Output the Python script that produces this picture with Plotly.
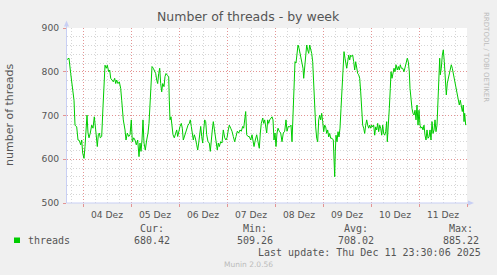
import pandas as pd
import plotly.graph_objects as go

# ---- data (hours relative to 2025-12-04 00:00, number of threads) ----
hours = [-8.0, -7.0, -6.15, -5.35, -4.5, -4.0, -3.15, -2.5, -1.85, -1.15, -0.65, -0.15, 0.5, 1.0, 1.5,
         2.0, 2.5, 3.0, 3.65, 4.35, 5.0, 5.65, 6.35, 6.85, 7.15, 7.65, 8.15, 8.65, 9.35, 10.0,
         10.5, 11.0, 11.65, 12.15, 12.85, 13.35, 13.85, 14.5, 15.15, 15.85, 16.35, 16.85, 17.5, 18.15,
         18.85, 19.35, 20.15, 21.0, 21.5, 22.15, 22.85, 23.5, 24.15, 24.65, 25.35, 26.0, 26.65, 27.35,
         28.0, 28.5, 29.0, 29.5, 30.0, 30.5, 31.15, 31.85, 32.5, 33.0, 33.5, 34.0, 34.5, 35.15, 35.85,
         36.35, 36.85, 37.35, 37.85, 38.35, 38.85, 39.35, 39.85, 40.5, 41.0, 41.5, 42.15, 42.85, 43.15,
         43.5, 44.0, 44.5, 45.0, 45.65, 46.35, 46.85, 47.35, 48.0, 48.5, 49.15, 49.65, 50.15, 50.65,
         51.15, 51.85, 52.5, 53.15, 53.65, 54.15, 54.65, 55.15, 55.65, 56.15, 56.85, 57.35, 57.85,
         58.35, 58.85, 59.35, 59.85, 60.35, 60.85, 61.35, 61.85, 62.5, 63.15, 63.65, 64.15, 64.65,
         65.15, 65.65, 66.15, 66.65, 67.15, 67.65, 68.15, 68.85, 69.5, 70.15, 70.85, 71.5, 72.0,
         72.65, 73.15, 73.85, 74.5, 75.15, 75.85, 76.5, 77.15, 77.85, 78.5, 79.15, 79.85, 80.35,
         80.85, 81.35, 81.85, 82.5, 83.15, 83.85, 84.5, 85.0, 85.5, 86.15, 86.85, 87.5, 88.15, 88.65,
         89.15, 89.85, 90.35, 90.85, 91.35, 91.85, 92.35, 92.85, 93.35, 94.0, 94.5, 95.0, 95.5, 96.0,
         96.5, 97.0, 97.5, 98.15, 98.85, 99.5, 100.15, 100.85, 101.5, 102.0, 102.65, 103.35, 104.0,
         104.5, 105.0, 105.5, 106.0, 106.5, 107.0, 107.5, 108.0, 108.5, 109.0, 109.5, 110.0, 110.35,
         110.85, 111.35, 111.85, 112.35, 112.85, 113.35, 113.85, 114.35, 114.85, 115.15, 115.5,
         115.85, 116.35, 116.85, 117.35, 117.85, 118.35, 118.85, 119.35, 119.85, 120.35, 120.85,
         121.35, 121.85, 122.35, 122.85, 123.35, 123.85, 124.5, 125.15, 125.5, 125.85, 126.15, 126.5,
         127.0, 127.5, 128.0, 128.5, 129.0, 129.5, 130.0, 130.5, 131.0, 131.5, 131.85, 132.35, 132.85,
         133.35, 133.85, 134.35, 134.85, 135.35, 135.85, 136.35, 136.85, 137.35, 137.85, 138.35,
         138.85, 139.35, 139.85, 140.35, 140.85, 141.35, 141.85, 142.35, 142.85, 143.35, 143.85,
         144.35, 144.85, 145.35, 145.85, 146.35, 146.85, 147.35, 147.85, 148.35, 148.85, 149.35,
         149.85, 150.35, 150.85, 151.35, 151.85, 152.15, 152.65, 153.15, 153.65, 154.0, 154.5, 155.0,
         155.5, 156.0, 156.5, 157.15, 157.65, 158.15, 158.65, 159.15, 159.85, 160.5, 161.15, 161.65,
         162.15, 162.65, 163.15, 163.5, 164.0, 164.5, 165.0, 165.5, 166.0, 166.5, 167.0, 167.5, 168.0,
         168.5, 169.0, 169.5, 170.0, 170.5, 171.0, 171.5, 172.0, 172.5, 173.0, 173.5, 174.0, 174.5,
         175.0, 175.5, 176.0, 176.5, 177.0, 177.5, 178.0, 178.35, 178.65, 179.15, 179.65, 180.15,
         180.65, 181.15, 181.65, 182.15, 182.65, 183.15, 183.65, 184.15, 184.65, 185.15, 185.65,
         186.15, 186.65, 187.15, 187.65, 188.15, 188.65, 189.15, 189.65, 190.15, 190.5, 190.85, 191.35]

threads = [828, 831, 796, 758, 735, 678, 674, 644, 643, 633, 644, 614, 602, 629, 667,
           701, 660, 649, 660, 678, 671, 697, 667, 644, 629, 656, 660, 649, 652, 720,
           789, 815, 808, 815, 800, 804, 785, 781, 777, 785, 773, 781, 773, 777,
           762, 735, 690, 667, 644, 660, 652, 656, 690, 640, 649, 644, 633, 644,
           606, 637, 618, 644, 690, 637, 621, 644, 660, 682, 720, 773, 812, 808, 800,
           796, 781, 773, 796, 808, 773, 754, 773, 766, 789, 796, 792, 789, 735,
           690, 697, 678, 656, 649, 660, 667, 652, 670, 675, 682, 671, 644, 652,
           660, 671, 678, 682, 690, 675, 660, 644, 656, 649, 633, 621, 637,
           667, 675, 652, 637, 667, 690, 686, 656, 640, 637, 618, 652, 667,
           686, 667, 649, 629, 621, 637, 629, 640, 637, 667, 649, 644, 649,
           667, 678, 671, 664, 652, 640, 652, 664, 660, 667, 664, 675, 671,
           690, 709, 656, 652, 652, 644, 656, 637, 629, 644, 656, 640, 625, 660,
           682, 694, 682, 690, 675, 660, 690, 682, 690, 694, 697, 690, 644, 660,
           629, 660, 671, 664, 660, 640, 660, 664, 690, 664, 675, 674, 678,
           640, 694, 770, 823, 820, 846, 861, 854, 842, 831, 816, 808, 785,
           816, 846, 861, 850, 842, 861, 854, 842, 823, 793, 754,
           694, 674, 648, 640, 690, 701, 690, 705, 686, 663, 678,
           674, 659, 667, 651, 659, 648, 648, 644, 610, 560, 617, 655,
           640, 663, 651, 671, 716, 770, 823, 846, 831, 816, 808, 823, 838,
           827, 838, 835, 838, 823, 804, 823, 804, 796, 793, 785,
           754, 716, 678, 671, 659, 678, 690, 678, 671, 678, 671,
           678, 674, 678, 655, 674, 667, 682, 663, 678, 671, 655,
           678, 659, 655, 663, 686, 640, 671, 716, 762, 800, 785, 796,
           808, 800, 816, 804, 812, 804, 816, 808, 808, 800, 812, 827,
           831, 823, 800, 762, 731, 716, 705, 701, 712, 690, 724, 678, 712,
           678, 671, 674, 667, 678, 655, 644, 667, 648, 651, 667, 644, 686,
           659, 667, 690, 663, 678, 739, 808, 831, 793, 808, 838, 850,
           823, 793, 747, 774, 785, 793, 808, 816, 808, 796, 785,
           781, 762, 754, 743, 724, 735, 720, 709, 724, 686, 705, 678]

y_ticks = [500, 600, 700, 800, 900]
legend_name = "threads"
stat_labels = ["Cur:", "Min:", "Avg:", "Max:"]
stat_values = ["680.42", "509.26", "708.02", "885.22"]
last_update = "Last update: Thu Dec 11 23:30:06 2025"

# ---- layout constants ----
W, H = 497, 275
L, R, T, B = 67, 30, 28, 72
PW, PH = W - L - R, H - T - B


def px(x):
    return (x - L) / PW


def py(y):
    return (H - B - y) / PH


base = pd.Timestamp("2025-12-04 00:00")
times = base + pd.to_timedelta(hours, unit="h")

GREEN = "#00CC00"
FONT = "DejaVu Sans"
MONO = "DejaVu Sans Mono"
TXT = "#555555"
AXIS = "#C8CFF4"
MGRID = "#E39494"
GRID = "#D6D6D6"

fig = go.Figure()
fig.add_trace(go.Scatter(x=times, y=threads, mode="lines",
                         line=dict(color=GREEN, width=1), hoverinfo="skip",
                         showlegend=False))

fig.update_layout(
    width=W, height=H,
    margin=dict(l=L, r=R, t=T, b=B, pad=0),
    paper_bgcolor="#F0F0F0", plot_bgcolor="#FFFFFF",
    showlegend=False,
    xaxis=dict(
        type="date",
        range=[base - pd.Timedelta(hours=8), base + pd.Timedelta(hours=192)],
        tick0="2025-12-04", dtick=86400000,
        ticklabelmode="period", tickformat="%d Dez",
        showgrid=True, gridcolor=MGRID, griddash="1px,2px", gridwidth=1,
        ticks="outside", ticklen=3, tickcolor=MGRID,
        tickfont=dict(family=FONT, size=9.2, color=TXT),
        showline=False, zeroline=False,
        minor=dict(dtick=6 * 3600000, showgrid=True, gridcolor=GRID,
                   griddash="1px,2px", gridwidth=1, ticks=""),
        fixedrange=True,
    ),
    yaxis=dict(
        range=[500, 900], tickvals=y_ticks,
        showgrid=True, gridcolor=MGRID, griddash="1px,2px", gridwidth=1,
        ticks="outside", ticklen=3, tickcolor=MGRID,
        tickfont=dict(family=FONT, size=9.2, color=TXT),
        ticklabelstandoff=2,
        showline=False, zeroline=False,
        minor=dict(dtick=20, showgrid=True, gridcolor=GRID,
                   griddash="1px,2px", gridwidth=1, ticks=""),
        fixedrange=True,
    ),
)

shapes = []
# axis lines
shapes.append(dict(type="line", xref="paper", yref="paper", x0=px(66.5), x1=px(469),
                   y0=py(203), y1=py(203), line=dict(color=AXIS, width=1)))
shapes.append(dict(type="line", xref="paper", yref="paper", x0=px(66.5), x1=px(66.5),
                   y0=py(203), y1=py(25), line=dict(color=AXIS, width=1)))
# arrows
shapes.append(dict(type="path", xref="paper", yref="paper",
                   path=f"M {px(64)} {py(26.5)} L {px(69)} {py(26.5)} L {px(66.5)} {py(20.5)} Z",
                   fillcolor=AXIS, line=dict(width=0)))
shapes.append(dict(type="path", xref="paper", yref="paper",
                   path=f"M {px(468)} {py(200.5)} L {px(468)} {py(205.5)} L {px(474)} {py(203)} Z",
                   fillcolor=AXIS, line=dict(width=0)))
# legend swatch
shapes.append(dict(type="rect", xref="paper", yref="paper", x0=px(14), x1=px(20),
                   y0=py(243), y1=py(237.5), fillcolor=GREEN, line=dict(width=0)))
fig.update_layout(shapes=shapes)

ann = []


def text(x, y, s, size, color=TXT, family=FONT, anchor="center", angle=0):
    ann.append(dict(x=px(x), y=py(y), xref="paper", yref="paper", text=s, showarrow=False,
                    xanchor=anchor, yanchor="middle", textangle=angle,
                    font=dict(family=family, size=size, color=color), borderpad=0))


text(248, 17, "Number of threads - by week", 12.5)
text(9, 115, "number of threads", 11, angle=-90)
text(486, 57, "RRDTOOL / TOBI OETIKER", 7, color="#BBBBBB", angle=90)

text(27, 240, legend_name, 10, family=MONO, anchor="left")
stat_x = [151.5, 254.5, 356, 461]
for sx, lab, val in zip(stat_x, stat_labels, stat_values):
    text(sx, 228, lab, 10, family=MONO)
    text(sx, 240, val, 10, family=MONO)
text(482, 252, last_update, 10, family=MONO, anchor="right")
text(248, 264, "Munin 2.0.56", 7.5, color="#BBBBBB")
fig.update_layout(annotations=ann)

fig.write_html("out.html")
